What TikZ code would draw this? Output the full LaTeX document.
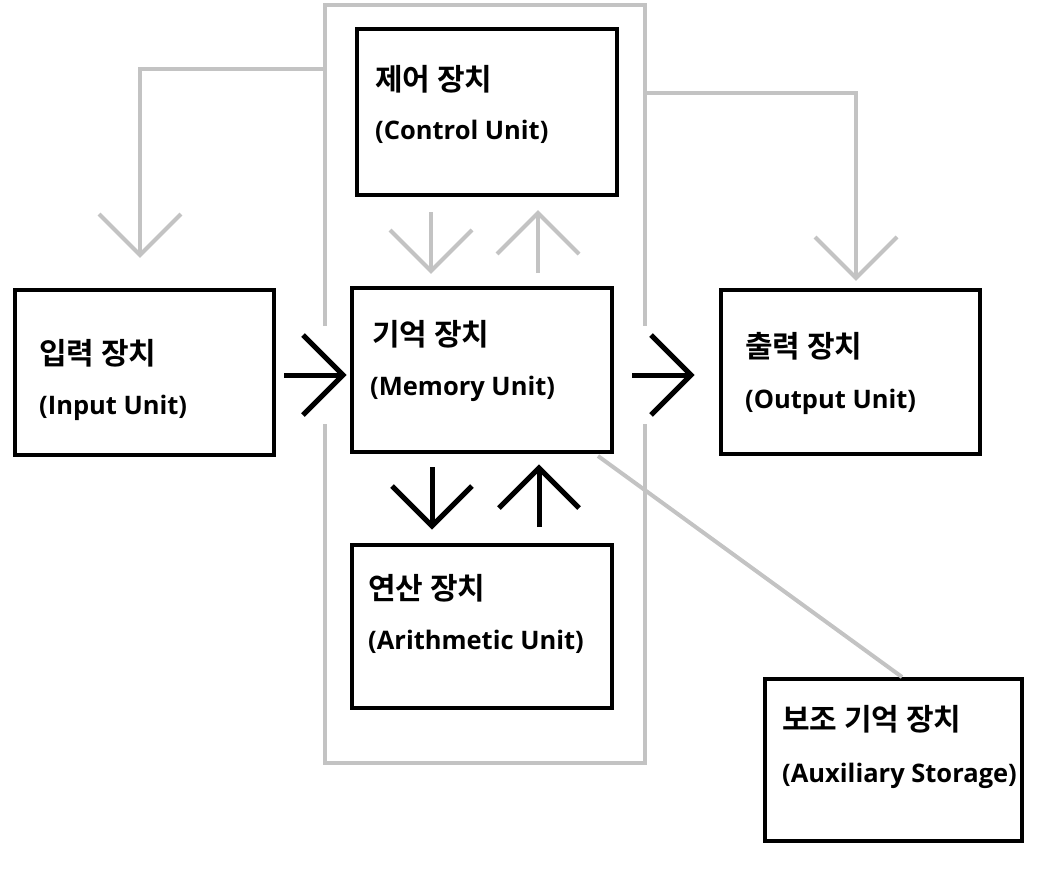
\documentclass[tikz,border=0pt]{standalone}
\usepackage{fontspec}
\setmainfont{Open Sans}[BoldFont={* Bold}]
\newfontfamily\kofont{Noto Sans CJK KR}[BoldFont={* Bold}]
\definecolor{lightgray}{RGB}{195,195,195}
\begin{document}
\begin{tikzpicture}[x=1pt,y=-1pt,
  box/.style={draw=black,line width=4.5pt,minimum width=#1,inner sep=0pt},
  lblk/.style={anchor=base west,inner sep=0pt,font=\kofont\fontsize{30}{34}\selectfont\bfseries},
  lble/.style={anchor=base west,inner sep=0pt,font=\fontsize{25.5}{30}\selectfont\bfseries},
  graylink/.style={draw=lightgray,line width=4pt},
  blacklink/.style={draw=black,line width=5pt}]
\useasboundingbox (0,0) rectangle (1056,884);
\fill[white] (0,0) rectangle (1056,884);
% boxes
\node[box=260pt,minimum height=166pt] (ctrl) at (487,112) {};
\node[box=259pt,minimum height=165pt] (inp) at (144.5,372.5) {};
\node[box=260pt,minimum height=164pt] (mem) at (482,370) {};
\node[box=259pt,minimum height=164pt] (outp) at (850.5,372) {};
\node[box=260pt,minimum height=163pt] (arith) at (482,626.5) {};
\node[box=257pt,minimum height=162pt] (aux) at (893.5,760) {};
% labels
\node[lblk] (ctrlk) at (375,90) {제어 장치};
\node[lble] (ctrle) at (375,139) {(Control Unit)};
\node[lblk] (inpk) at (39,364) {입력 장치};
\node[lble] (inpe) at (39,414) {(Input Unit)};
\node[lblk] (memk) at (372,345) {기억 장치};
\node[lble] (meme) at (370,395) {(Memory Unit)};
\node[lblk] (outk) at (745,357) {출력 장치};
\node[lble] (oute) at (745,408) {(Output Unit)};
\node[lblk] (arithk) at (368,599) {연산 장치};
\node[lble] (arithe) at (368,649) {(Arithmetic Unit)};
\node[lblk] (auxk) at (782,730) {보조 기억 장치};
\node[lble] (auxe) at (782,782) {(Auxiliary Storage)};
% gray frame with gaps
\coordinate (fL1) at (325,326);
\coordinate (fL2) at (325,424);
\coordinate (fR1) at (645,326);
\coordinate (fR2) at (645,424);
\draw[graylink] (fL1) -- (325,5) -- (645,5) -- (fR1);
\draw[graylink] (fR2) -- (645,763) -- (325,763) -- (fL2);
% frame to input
\coordinate (fin) at (325,69);
\coordinate (tin) at (140,255);
\draw[graylink] (fin) -- (140,69) -- (tin);
\draw[graylink] (tin) ++(-41,-41) -- (tin) -- ++(41,-41);
% frame to output
\coordinate (fout) at (645,93);
\coordinate (tout) at (856,278);
\draw[graylink] (fout) -- (856,93) -- (tout);
\draw[graylink] (tout) ++(-41,-41) -- (tout) -- ++(41,-41);
% control <-> memory
\coordinate (cd1) at (431,212);
\coordinate (cd2) at (431,271);
\draw[graylink] (cd1) -- (cd2);
\draw[graylink] (cd2) ++(-41,-41) -- (cd2) -- ++(41,-41);
\coordinate (cu1) at (538,273);
\coordinate (cu2) at (538,213);
\draw[graylink] (cu1) -- (cu2);
\draw[graylink] (cu2) ++(-41,41) -- (cu2) -- ++(41,41);
% input -> memory
\coordinate (im1) at (284,375);
\coordinate (im2) at (343,375);
\draw[blacklink] (im1) -- (im2);
\draw[blacklink] (im2) ++(-40,-40) -- (im2) -- ++(-40,40);
% memory -> output
\coordinate (mo1) at (632,375);
\coordinate (mo2) at (691,375);
\draw[blacklink] (mo1) -- (mo2);
\draw[blacklink] (mo2) ++(-40,-40) -- (mo2) -- ++(-40,40);
% memory <-> arithmetic
\coordinate (ad1) at (432,467);
\coordinate (ad2) at (432,526);
\draw[blacklink] (ad1) -- (ad2);
\draw[blacklink] (ad2) ++(-40,-40) -- (ad2) -- ++(40,-40);
\coordinate (au1) at (539,527);
\coordinate (au2) at (539,468);
\draw[blacklink] (au1) -- (au2);
\draw[blacklink] (au2) ++(-40,40) -- (au2) -- ++(40,40);
% memory - auxiliary
\draw[graylink] (598,456) -- (902,677);
\end{tikzpicture}
\end{document}
